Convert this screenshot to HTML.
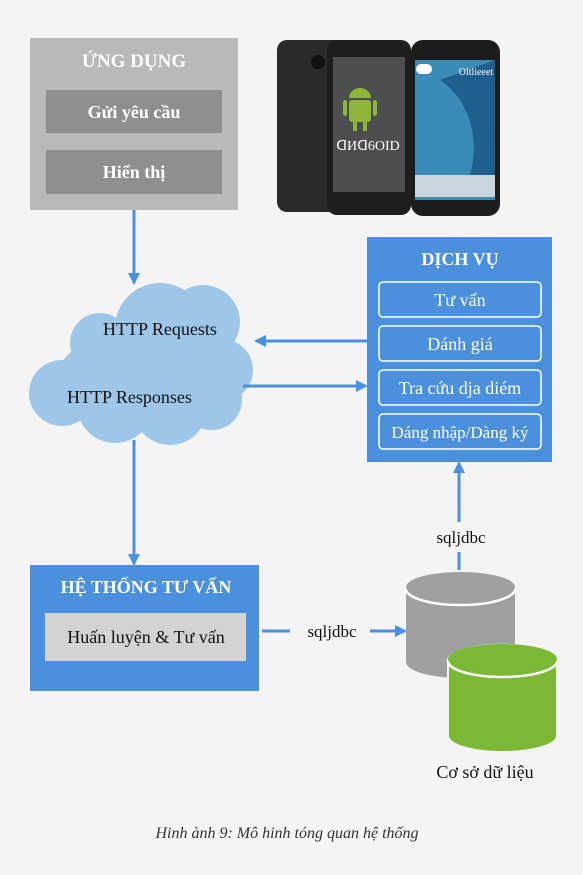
<!DOCTYPE html>
<html><head><meta charset="utf-8"><style>
html,body{margin:0;padding:0;background:#f4f4f4}
svg{display:block}
text{font-family:"Liberation Serif","DejaVu Serif",serif}
</style></head><body>
<svg width="583" height="875" viewBox="0 0 583 875" xmlns="http://www.w3.org/2000/svg">
<defs>
<marker id="ah" markerWidth="12" markerHeight="12" refX="10" refY="6" orient="auto" markerUnits="userSpaceOnUse"><path d="M0,0 L12,6 L0,12 z" fill="#4a90e2"/></marker>
</defs>
<rect width="583" height="875" fill="#f4f4f4"/>
<!-- App box -->
<rect x="30" y="38" width="208" height="172" fill="#b9b9b9"/>
<text x="134" y="67" text-anchor="middle" font-size="19" font-weight="bold" fill="#fff">ỨNG DỤNG</text>
<rect x="46" y="90" width="176" height="43" fill="#8f8f8f"/>
<text x="134" y="118" text-anchor="middle" font-size="18" font-weight="bold" fill="#fff">Gửi yêu cầu</text>
<rect x="46" y="150" width="176" height="44" fill="#8f8f8f"/>
<text x="134" y="178" text-anchor="middle" font-size="18" font-weight="bold" fill="#fff">Hiển thị</text>
<!-- Phones -->
<rect x="277" y="40" width="70" height="172" rx="10" fill="#2a2a2a"/>
<circle cx="318" cy="62" r="7" fill="#111"/>
<rect x="327" y="40" width="84" height="175" rx="10" fill="#1e1e1e"/>
<rect x="333" y="57" width="72" height="135" fill="#4c4e50"/>
<rect x="349" y="100" width="22" height="22" rx="3" fill="#8fb63a"/>
<path d="M349,98 a11,10 0 0 1 22,0 z" fill="#8fb63a"/>
<rect x="343" y="100" width="4" height="16" rx="2" fill="#8fb63a"/>
<rect x="373" y="100" width="4" height="16" rx="2" fill="#8fb63a"/>
<rect x="353" y="122" width="4" height="9" fill="#8fb63a"/><rect x="363" y="122" width="4" height="9" fill="#8fb63a"/>
<text x="368" y="150" text-anchor="middle" font-size="14" fill="#fff" font-family="Liberation Sans,sans-serif">ᗡИᗡ6OID</text>
<rect x="411" y="40" width="89" height="176" rx="12" fill="#1c1c1c"/>
<rect x="415" y="60" width="80" height="140" fill="#3b8bb8"/>
<path d="M440,80 C470,100 480,140 470,175 L495,175 L495,60 Z" fill="#1f5f8e"/>
<rect x="415" y="175" width="80" height="22" fill="#c9d6de"/>
<text x="476" y="75" text-anchor="middle" font-size="10" fill="#fff">Oltlieeet</text>
<rect x="416" y="64" width="16" height="10" rx="5" fill="#fff"/>
<!-- arrows -->
<line x1="134" y1="210" x2="134" y2="283" stroke="#4a90e2" stroke-width="3" marker-end="url(#ah)"/>
<!-- Cloud -->
<g fill="#9dc6e8">
<circle cx="62" cy="393" r="33"/>
<circle cx="100" cy="343" r="30"/>
<circle cx="160" cy="328" r="45"/>
<circle cx="203" cy="322" r="37"/>
<circle cx="222" cy="370" r="31"/>
<circle cx="115" cy="405" r="38"/>
<circle cx="170" cy="408" r="37"/>
<circle cx="212" cy="400" r="30"/>
<ellipse cx="150" cy="372" rx="90" ry="42"/>
</g>
<text x="103" y="335" font-size="18" fill="#111">HTTP Requests</text>
<text x="67" y="403" font-size="18" fill="#111">HTTP Responses</text>
<line x1="367" y1="341" x2="256" y2="341" stroke="#4a90e2" stroke-width="3" marker-end="url(#ah)"/>
<line x1="243" y1="386" x2="366" y2="386" stroke="#4a90e2" stroke-width="3" marker-end="url(#ah)"/>
<line x1="134" y1="440" x2="134" y2="564" stroke="#4a90e2" stroke-width="3" marker-end="url(#ah)"/>
<!-- Service box -->
<rect x="367" y="237" width="185" height="225" fill="#4a90dc"/>
<text x="460" y="265" text-anchor="middle" font-size="18" font-weight="bold" fill="#fff">DỊCH VỤ</text>
<g fill="none" stroke="#fff" stroke-width="1.5">
<rect x="379" y="282" width="162" height="35" rx="4"/>
<rect x="379" y="326" width="162" height="35" rx="4"/>
<rect x="379" y="370" width="162" height="35" rx="4"/>
<rect x="379" y="414" width="162" height="35" rx="4"/>
</g>
<g fill="#fff" font-size="18" text-anchor="middle">
<text x="460" y="306">Tư vấn</text>
<text x="460" y="350">Dánh giá</text>
<text x="460" y="394">Tra cứu dja diém</text>
<text x="460" y="438" font-size="17">Dáng nhập/Dàng ký</text>
</g>
<!-- System box -->
<rect x="30" y="565" width="229" height="126" fill="#4a90dc"/>
<text x="146" y="593" text-anchor="middle" font-size="18" font-weight="bold" fill="#fff">HỆ THỐNG TƯ VẤN</text>
<rect x="45" y="613" width="201" height="48" fill="#d3d3d3"/>
<text x="146" y="643" text-anchor="middle" font-size="18" fill="#111">Huấn luyện &amp; Tư vấn</text>
<line x1="262" y1="631" x2="290" y2="631" stroke="#4a90e2" stroke-width="3"/>
<line x1="370" y1="631" x2="405" y2="631" stroke="#4a90e2" stroke-width="3" marker-end="url(#ah)"/>
<text x="332" y="637" text-anchor="middle" font-size="17" fill="#111">sqljdbc</text>
<line x1="459" y1="570" x2="459" y2="552" stroke="#4a90e2" stroke-width="3"/>
<line x1="459" y1="522" x2="459" y2="463" stroke="#4a90e2" stroke-width="3" marker-end="url(#ah)"/>
<text x="461" y="543" text-anchor="middle" font-size="17" fill="#111">sqljdbc</text>
<!-- DB -->
<path d="M406,589 L406,662 A54.5,16 0 0 0 515,662 L515,589 Z" fill="#a0a0a0"/>
<ellipse cx="460.5" cy="589" rx="54.5" ry="16" fill="#a0a0a0" stroke="#fff" stroke-width="2.5"/>
<ellipse cx="460.5" cy="587" rx="54.5" ry="15" fill="#a0a0a0"/>
<path d="M448,661 L448,736 A54.5,16 0 0 0 557,736 L557,661 Z" fill="#7ab835" stroke="#f4f4f4" stroke-width="2"/>
<ellipse cx="502.5" cy="661" rx="54.5" ry="16" fill="#7ab835" stroke="#fff" stroke-width="2.5"/>
<ellipse cx="502.5" cy="659" rx="54.5" ry="15" fill="#7ab835"/>
<text x="485" y="778" text-anchor="middle" font-size="18" fill="#111">Cơ sở dữ liệu</text>
<text x="287" y="838" text-anchor="middle" font-size="16" font-style="italic" fill="#333">Hinh ành 9: Mô hinh tóng quan hệ thống</text>
</svg>
</body></html>
